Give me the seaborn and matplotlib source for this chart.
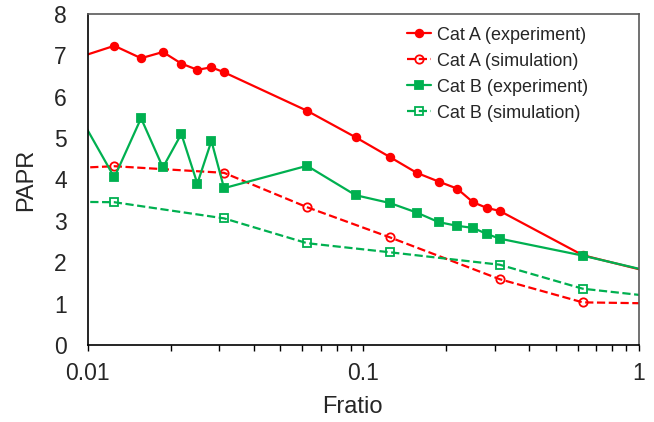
import matplotlib

matplotlib.use("Agg")
import matplotlib.pyplot as plt
import numpy as np
import pandas as pd
import seaborn as sns
from matplotlib.ticker import FixedLocator, FuncFormatter, LogLocator, NullFormatter

# measured points; the first/last points of each series lie just outside the
# plotted range so the lines run to the frame edges, as in the original
x_exp = [0.009375, 0.0125, 0.015625, 0.01875, 0.021875, 0.025, 0.028125, 0.03125,
         0.0625, 0.09375, 0.125, 0.15625, 0.1875, 0.21875, 0.25, 0.28125, 0.3125,
         0.625, 1.25]
cat_a_exp = [6.96, 7.23, 6.93, 7.08, 6.80, 6.65, 6.71, 6.59,
             5.66, 5.02, 4.54, 4.16, 3.95, 3.78, 3.45, 3.31, 3.24,
             2.17, 1.67]
cat_b_exp = [5.52, 4.05, 5.48, 4.29, 5.10, 3.90, 4.93, 3.79,
             4.33, 3.62, 3.43, 3.20, 2.97, 2.88, 2.83, 2.68, 2.57,
             2.16, 1.69]

x_sim = [0.00625, 0.0125, 0.03125, 0.0625, 0.125, 0.3125, 0.625, 1.25]
cat_a_sim = [4.23, 4.32, 4.16, 3.33, 2.60, 1.59, 1.03, 1.00]
cat_b_sim = [3.47, 3.45, 3.06, 2.46, 2.24, 1.94, 1.36, 1.14]

x_ticks = [0.01, 0.1, 1]
y_ticks = list(range(0, 9))

RED = "#FF0000"
GREEN = "#00B050"

series = [
    ("Cat A (experiment)", x_exp, cat_a_exp, RED, "-", "o", RED),
    ("Cat A (simulation)", x_sim, cat_a_sim, RED, "--", "o", "none"),
    ("Cat B (experiment)", x_exp, cat_b_exp, GREEN, "-", "s", GREEN),
    ("Cat B (simulation)", x_sim, cat_b_sim, GREEN, "--", "s", "none"),
]

sns.set_style("white")
plt.rcParams["font.family"] = ["Liberation Sans", "DejaVu Sans"]

fig = plt.figure(figsize=(6.54, 4.22), dpi=100)
ax = fig.add_axes([0.134, 0.1825, 0.843, 0.7845])

for name, xs, ys, color, ls, marker, face in series:
    df = pd.DataFrame({"Fratio": xs, "PAPR": ys})
    sns.lineplot(
        data=df, x="Fratio", y="PAPR", ax=ax, label=name,
        color=color, linestyle=ls, linewidth=1.6,
        marker=marker, markersize=5.5 if face != "none" else 6,
        markerfacecolor=face, markeredgecolor=color, markeredgewidth=1.3,
        dashes=False if ls == "-" else (3, 2),
    )

ax.set_xscale("log")
ax.set_xlim(0.01, 1)
ax.set_ylim(0, 8)
ax.xaxis.set_major_locator(FixedLocator(x_ticks))
ax.xaxis.set_major_formatter(FuncFormatter(lambda v, _: f"{v:g}"))
ax.xaxis.set_minor_locator(LogLocator(base=10, subs=np.arange(2, 10)))
ax.xaxis.set_minor_formatter(NullFormatter())
ax.set_yticks(y_ticks)

ax.tick_params(axis="x", which="both", direction="out", length=4, width=1,
               color="black", labelsize=16.5, pad=8, bottom=True)
ax.tick_params(axis="y", length=0, labelsize=16.5, pad=15)

for side in ("left", "bottom"):
    ax.spines[side].set_color("black")
    ax.spines[side].set_linewidth(1.2)
for side in ("top", "right"):
    ax.spines[side].set_color("#595959")
    ax.spines[side].set_linewidth(1.2)

ax.set_xlabel("Fratio", fontsize=17)
ax.xaxis.set_label_coords(0.48, -0.155)
ax.set_ylabel("PAPR", fontsize=17, labelpad=12)

ax.legend(loc="upper right", bbox_to_anchor=(0.93, 1.0), frameon=False,
          fontsize=13, handlelength=1.35, handletextpad=0.3, labelspacing=0.5,
          borderaxespad=0.3)

fig.savefig("out.png", dpi=100)
plt.close(fig)
